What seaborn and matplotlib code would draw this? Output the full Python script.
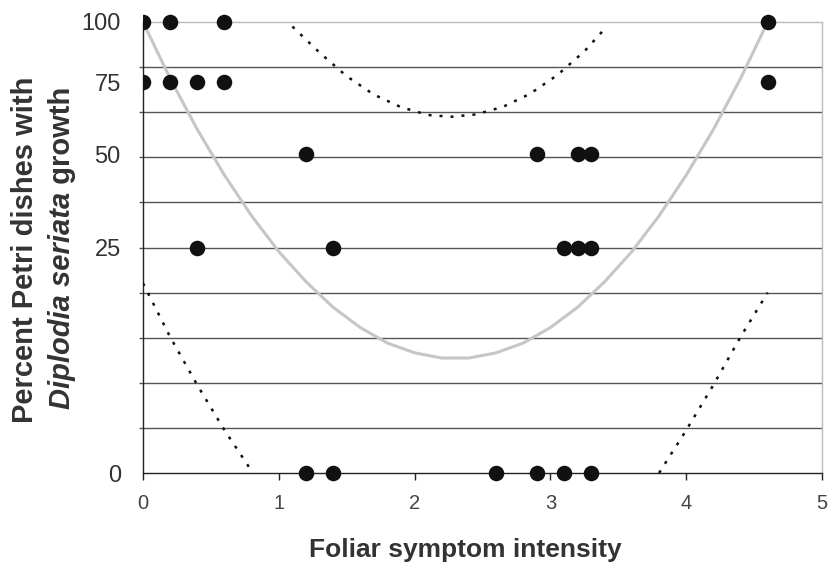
import numpy as np
import matplotlib
matplotlib.use('Agg')
import matplotlib.pyplot as plt
import seaborn as sns
from matplotlib.patches import Rectangle

sns.set_style('white')
plt.rcParams['font.family'] = ['Liberation Sans', 'DejaVu Sans']

# observed points: foliar symptom intensity vs % Petri dishes with growth
intensity = [0, 0.2, 0.6, 4.6,
             0, 0.2, 0.4, 0.6, 4.6,
             1.2, 2.9, 3.2, 3.3,
             0.4, 1.4, 3.1, 3.2, 3.3,
             1.2, 1.4, 2.6, 2.9, 3.1, 3.3]
percent = [100, 100, 100, 100,
           75, 75, 75, 75, 75,
           50, 50, 50, 50,
           25, 25, 25, 25, 25,
           0, 0, 0, 0, 0, 0]

# fitted curve (grey)
fit_x = [0, 0.2, 0.4, 0.6, 0.8, 1.0, 1.2, 1.4, 1.6, 1.8, 2.0, 2.2,
         2.4, 2.6, 2.8, 3.0, 3.2, 3.4, 3.6, 3.8, 4.0, 4.2, 4.4, 4.6]
fit_y = [100, 76.5, 58.0, 43.6, 32.5, 24.1, 18.0, 13.5, 10.4, 8.3, 7.1, 6.5,
         6.5, 7.1, 8.3, 10.4, 13.5, 18.0, 24.1, 32.5, 43.6, 58.0, 76.5, 100]

# confidence limits (dotted)
upper_x = [1.1, 1.3, 1.5, 1.7, 1.9, 2.1, 2.27, 2.45, 2.65, 2.85, 3.05, 3.25, 3.4]
upper_y = [98.0, 86.9, 77.4, 70.4, 65.8, 63.0, 62.4, 63.2, 65.9, 70.7, 77.8, 87.4, 97.0]
lower_left_x = [0, 0.2, 0.4, 0.6, 0.81]
lower_left_y = [17.7, 9.1, 3.8, 0.9, 0]
lower_right_x = [3.8, 4.0, 4.2, 4.4, 4.6]
lower_right_y = [0, 0.9, 3.8, 9.1, 16.0]

ytick_vals = [0, 25, 50, 75, 100]
grid_vals = [1, 4, 9, 16, 25, 36, 49, 64, 81]

fig = plt.figure(figsize=(8.3, 5.66), dpi=100)
ax = fig.add_axes([143 / 830, 1 - 473 / 566, (822 - 143) / 830, (473 - 22) / 566])

# square-root scale on the percentage axis
ax.set_yscale('function', functions=(lambda v: np.sqrt(np.clip(v, 0, None)),
                                     lambda v: np.square(v)))

dots = (0, (1.2, 3.2))
sns.lineplot(x=fit_x, y=fit_y, ax=ax, color='#c6c6c6', lw=2.2, errorbar=None, zorder=3)
sns.lineplot(x=upper_x, y=upper_y, ax=ax, color='#111111', lw=1.8, linestyle=dots, errorbar=None, zorder=3)
sns.lineplot(x=lower_left_x, y=lower_left_y, ax=ax, color='#111111', lw=1.8, linestyle=dots, errorbar=None, zorder=3)
sns.lineplot(x=lower_right_x, y=lower_right_y, ax=ax, color='#111111', lw=1.8, linestyle=dots, errorbar=None, zorder=3)

sns.scatterplot(x=intensity, y=percent, ax=ax, s=125, color='#111111', linewidth=0, zorder=5)
ax.collections[-1].set_clip_path(Rectangle((0, -0.1), 1.1, 1.2, transform=ax.transAxes))

ax.set_xlim(0, 5)
ax.set_ylim(0, 100)
ax.set_xticks([0, 1, 2, 3, 4, 5])
ax.set_yticks(ytick_vals)
ax.set_yticks(grid_vals, minor=True)
ax.yaxis.remove_overlapping_locs = False
ax.yaxis.grid(True, which='minor', color='#555555', lw=1, zorder=0)
ax.yaxis.grid(False, which='major')
ax.set_axisbelow(True)

ax.tick_params(axis='x', direction='out', length=5, width=1, color='#222222',
               labelsize=14.5, labelcolor='#444444', pad=10, bottom=True)
ax.tick_params(axis='y', which='major', length=0, labelsize=17, labelcolor='#333333', pad=16)
ax.tick_params(axis='y', which='minor', direction='out', length=3, width=1, color='#555555', left=True)

for side in ['left', 'bottom']:
    ax.spines[side].set_color('#222222')
    ax.spines[side].set_linewidth(1)
for side in ['top', 'right']:
    ax.spines[side].set_color('#bbbbbb')
    ax.spines[side].set_linewidth(1)

ax.set_xlabel('')
ax.set_ylabel('')

# axis titles
fig.text(465 / 830, 1 - 550 / 566, 'Foliar symptom intensity', ha='center', va='center',
         fontsize=19, fontweight='bold', color='#333333')
fig.text(25 / 830, 1 - 250 / 566, 'Percent Petri dishes with', rotation=90, ha='center',
         va='center', fontsize=21, fontweight='bold', color='#333333')
t2 = fig.text(62 / 830, 1 - 409 / 566, 'Diplodia seriata', rotation=90, ha='center',
              va='bottom', fontsize=21, fontweight='bold', fontstyle='italic', color='#333333')
ax.annotate(' growth', xy=(0.5, 1), xycoords=t2, rotation=90, ha='center', va='bottom',
            fontsize=21, fontweight='bold', color='#333333')

fig.savefig('out.png', dpi=100)
